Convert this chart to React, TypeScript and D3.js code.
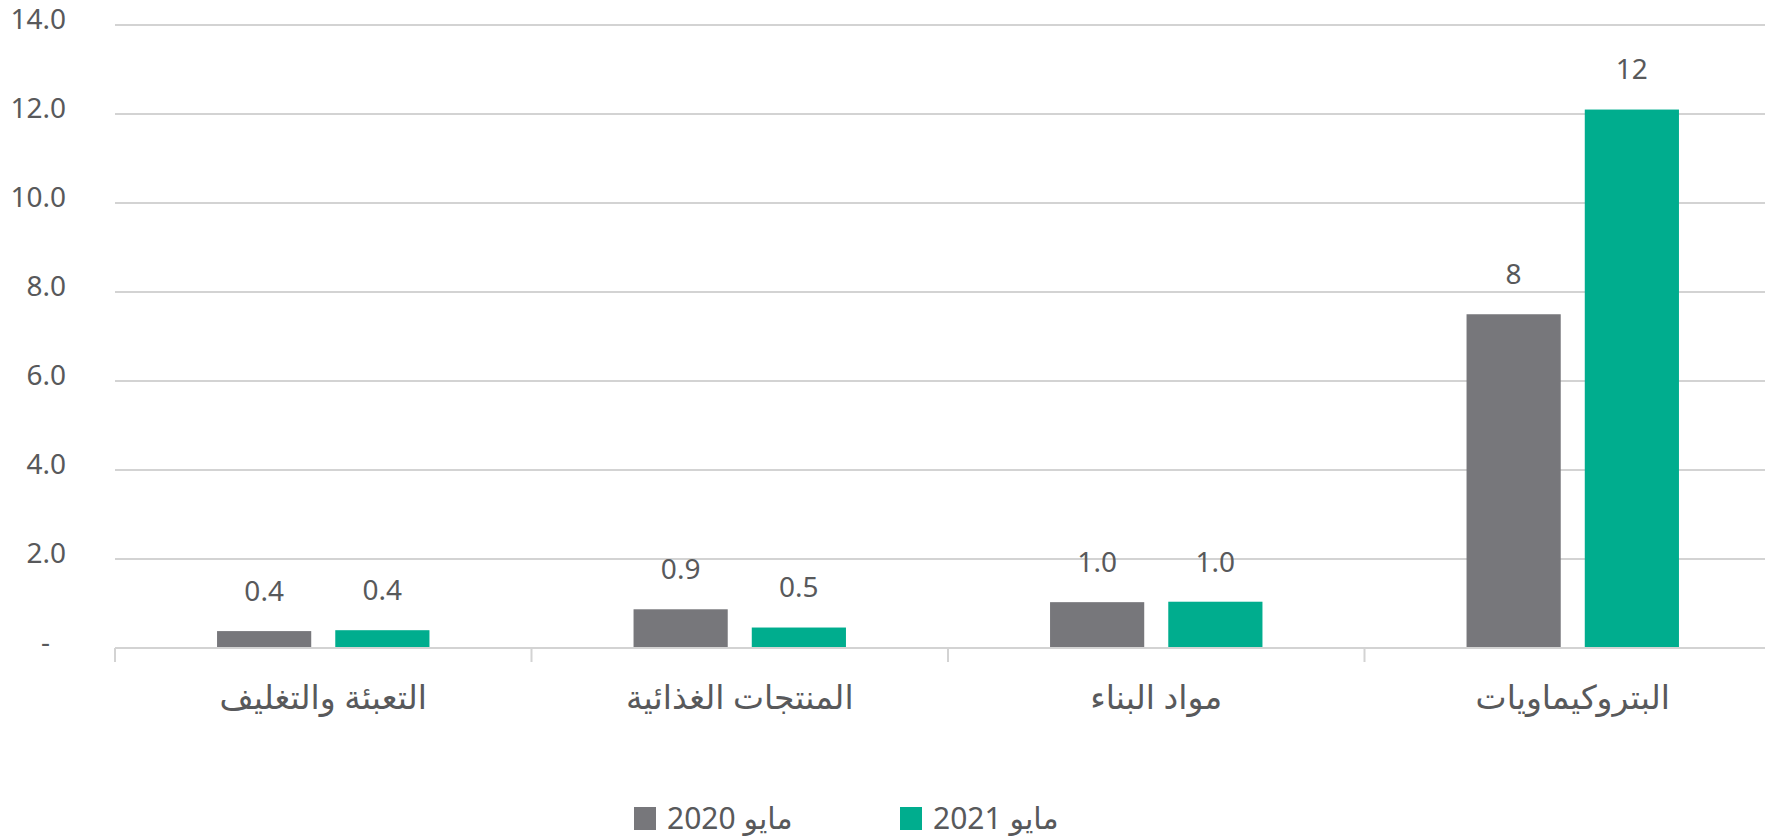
import React from 'react';
import * as d3 from 'd3';

const width = 1765;
const height = 837;
const margin = { top: 25, right: -16, bottom: 189, left: 115 };

// categories, left to right as drawn
const categories = ['التعبئة والتغليف', 'المنتجات الغذائية', 'مواد البناء', 'البتروكيماويات'];
const seriesNames = ['مايو 2020', 'مايو 2021'];
const values2020 = [0.38, 0.87, 1.03, 7.5];
const values2021 = [0.4, 0.46, 1.04, 12.1];
const labels2020 = ['0.4', '0.9', '1.0', '8'];
const labels2021 = ['0.4', '0.5', '1.0', '12'];
const yTicks = [0, 2, 4, 6, 8, 10, 12, 14];

const gray = '#77777b';
const green = '#00ad8e';
const textColor = '#58595b';
const gridColor = '#d3d3d3';
const font = '"Noto Sans", "DejaVu Sans", sans-serif';

const App = () => {
  const x0 = d3.scaleBand().domain(categories).range([margin.left, width - margin.right]);
  const bw = x0.bandwidth();
  const x1 = d3.scaleBand().domain(seriesNames).range([bw * 0.245, bw * 0.755]).paddingInner(24 / 118);
  const y = d3.scaleLinear().domain([0, 14]).range([height - margin.bottom, margin.top]);

  const series = [
    { name: seriesNames[0], values: values2020, labels: labels2020, color: gray },
    { name: seriesNames[1], values: values2021, labels: labels2021, color: green },
  ];

  const fmt = (d: number) => (d === 0 ? '-' : d3.format('.1f')(d));
  const base = y(0);

  return (
    <svg width={width} height={height} style={{ position: 'absolute', left: 0, top: 0, background: '#fff' }}>
      {/* grid + y labels */}
      {yTicks.map(t => (
        <g key={t}>
          {t !== 0 && <line x1={margin.left} x2={width} y1={y(t)} y2={y(t)} stroke={gridColor} strokeWidth={2} />}
          <text x={t === 0 ? 50 : 66} y={y(t) - 6} dy="0.35em" textAnchor="end" fontFamily={font} fontSize={28} fill={textColor}>
            {fmt(t)}
          </text>
        </g>
      ))}

      {/* bars */}
      {series.map(s =>
        categories.map((c, i) => {
          const bx = (x0(c) as number) + (x1(s.name) as number);
          const top = y(s.values[i]);
          return (
            <g key={s.name + c}>
              <rect x={bx} y={top} width={x1.bandwidth()} height={base - top} fill={s.color} />
              <text x={bx + x1.bandwidth() / 2} y={top - 40} dy="0.35em" textAnchor="middle" fontFamily={font} fontSize={28} fill={textColor}>
                {s.labels[i]}
              </text>
            </g>
          );
        })
      )}

      {/* x axis */}
      <line x1={margin.left} x2={width} y1={base} y2={base} stroke={gridColor} strokeWidth={2} />
      {categories.map(c => (
        <line key={'t' + c} x1={x0(c)} x2={x0(c)} y1={base} y2={base + 14} stroke={gridColor} strokeWidth={2} />
      ))}
      {categories.map(c => (
        <text key={'l' + c} x={(x0(c) as number) + bw / 2} y={697} dy="0.35em" textAnchor="middle" fontFamily={font} fontSize={33} fill={textColor}>
          {c}
        </text>
      ))}

      {/* legend */}
      {series.map((s, i) => (
        <g key={'lg' + s.name} transform={`translate(${634 + i * 266}, 818)`}>
          <rect x={0} y={-11} width={22} height={23} fill={s.color} />
          <text x={33} y={0} dy="0.35em" fontFamily={font} fontSize={30} fill={textColor}>
            {s.name}
          </text>
        </g>
      ))}
    </svg>
  );
};

export default App;
